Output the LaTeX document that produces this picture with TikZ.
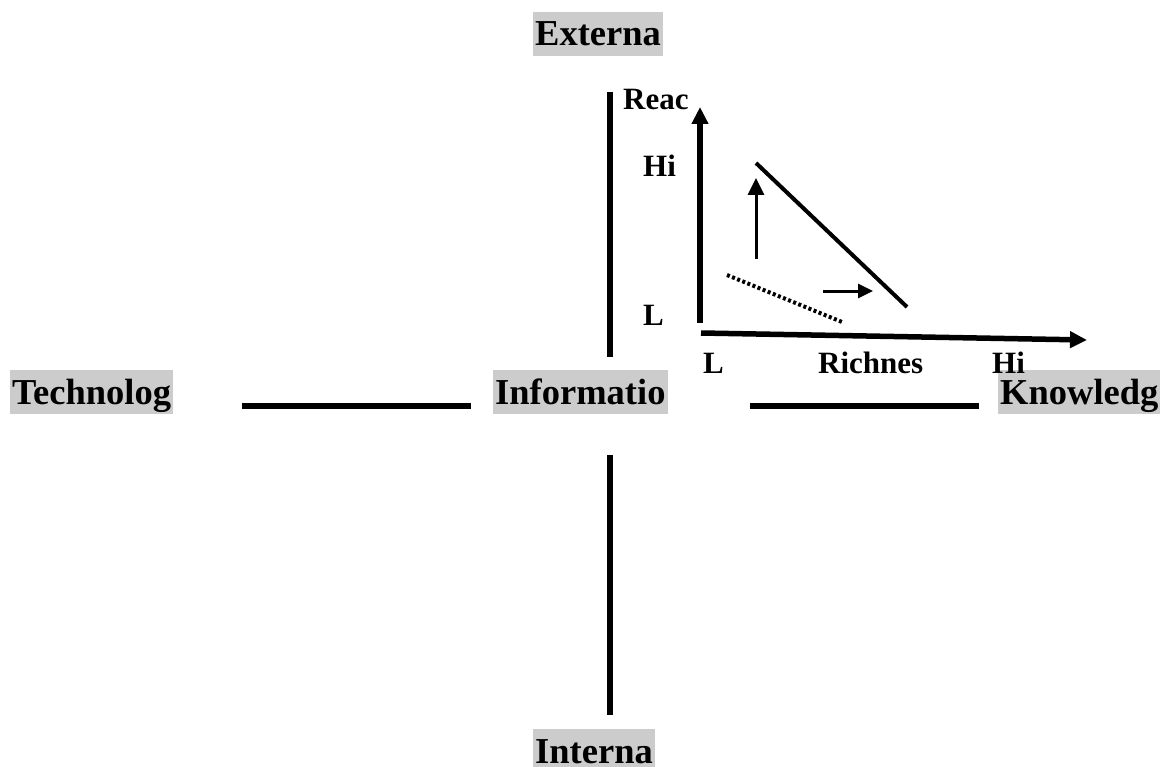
\documentclass[tikz,border=0pt]{standalone}
\usepackage{fontspec}
\setmainfont{Liberation Serif}
\usetikzlibrary{arrows.meta}
\definecolor{labelgray}{RGB}{204,204,204}

\begin{document}
\begin{tikzpicture}[x=1pt,y=-1pt,>={Triangle[length=17pt,width=16pt]},
		big/.style={fill=labelgray,anchor=base west,inner xsep=2pt,inner ysep=3pt,
			text height=31pt,text depth=7pt,font=\fontsize{36.5}{40}\selectfont\bfseries},
		small/.style={anchor=base west,inner sep=0pt,font=\fontsize{31}{34}\selectfont\bfseries},
		bar/.style={line width=6pt},
		axis/.style={->,line width=5.5pt},
		nudge/.style={->,line width=3pt}]
		\useasboundingbox (0,0) rectangle (1161,767);

		\node[big]   (ext)  at (533,46)  {Externa};
		\node[big]   (tech) at (10,404)  {Technolog};
		\node[big]   (info) at (493,404) {Informatio};
		\node[big]   (know) at (998,404) {Knowledg};
		\node[big]   (int)  at (533,763) {Interna};

		\node[small] (reac) at (623,110) {Reac};
		\node[small] (yhi)  at (643,177) {Hi};
		\node[small] (ylo)  at (643,325) {L};
		\node[small] (xlo)  at (703,373) {L};
		\node[small] (rich) at (818,373) {Richnes};
		\node[small] (xhi)  at (992,373) {Hi};

		% the cross
		\coordinate (vt1) at (610,92);
		\coordinate (vt2) at (610,357);
		\coordinate (vb1) at (610,455);
		\coordinate (vb2) at (610,715);
		\coordinate (hl1) at (242,406);
		\coordinate (hl2) at (471,406);
		\coordinate (hr1) at (750,406);
		\coordinate (hr2) at (979,406);
		\draw[bar] (vt1) -- (vt2);
		\draw[bar] (vb1) -- (vb2);
		\draw[bar] (hl1) -- (hl2);
		\draw[bar] (hr1) -- (hr2);

		% the small chart
		\coordinate (o)   at (700,323);
		\coordinate (top) at (700,107);
		\coordinate (ox)  at (701,333);
		\coordinate (end) at (1087,340);
		\path[axis] (o)  edge (top);
		\path[axis] (ox) edge (end);

		\coordinate (d1) at (756,163);
		\coordinate (d2) at (907,307);
		\draw[line width=4pt] (d1) -- (d2);

		\coordinate (p1) at (727,275);
		\coordinate (p2) at (842,322);
		\draw[line width=4pt,dash pattern=on 3pt off 2.5pt] (p1) -- (p2);

		\coordinate (u1) at (756,259);
		\coordinate (u2) at (756,178);
		\coordinate (r1) at (823,291);
		\coordinate (r2) at (873,291);
		\path[nudge] (u1) edge (u2);
		\path[nudge,>={Triangle[length=15pt,width=14pt]}] (r1) edge (r2);
	\end{tikzpicture}
\end{document}
